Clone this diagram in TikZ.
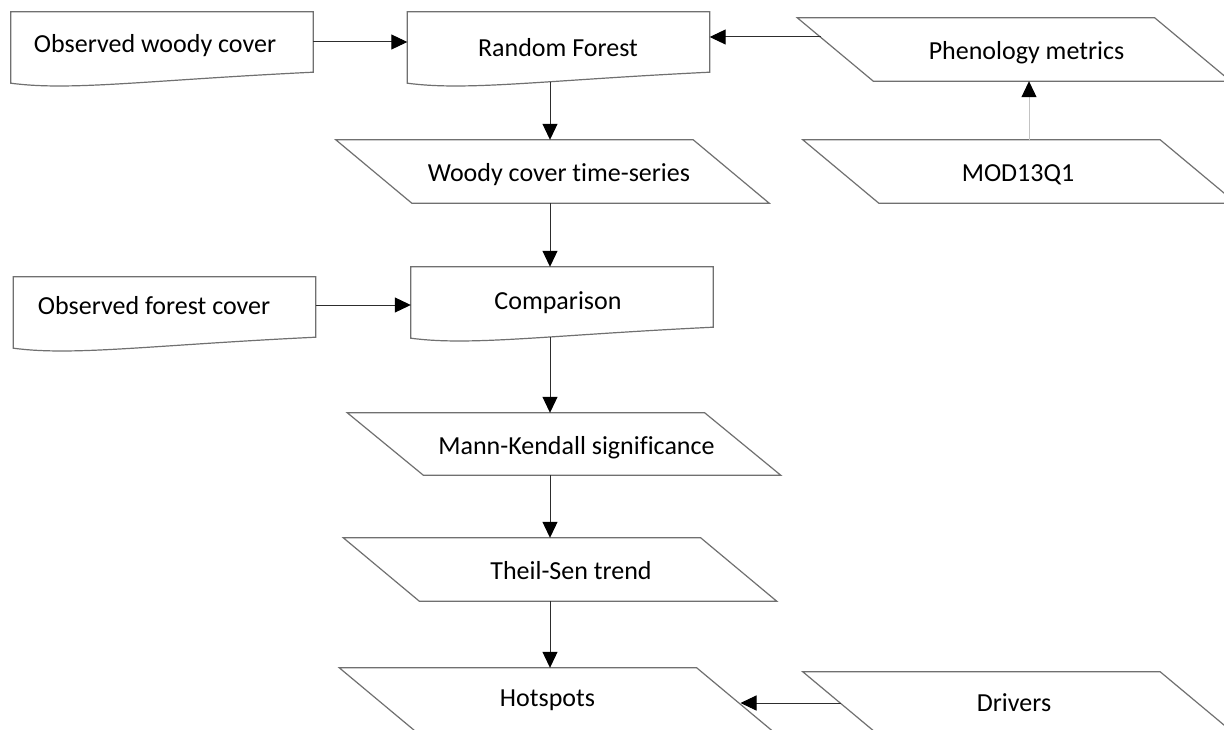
\documentclass[tikz,border=0pt]{standalone}
\usepackage{fontspec}
\setmainfont{Carlito}[Ligatures=NoCommon]
\usetikzlibrary{arrows.meta,calc}
\definecolor{boxgray}{RGB}{112,112,112}
\definecolor{linegray}{RGB}{45,45,45}
\definecolor{lightline}{RGB}{195,195,195}
\tikzset{
  docnode/.style={inner sep=0pt, minimum width=302pt, minimum height=60pt},
  paranode/.style={inner sep=0pt, minimum width=357pt, minimum height=63pt},
  outline/.style={draw=boxgray, line width=1.2pt, line join=miter},
  conn/.style={draw=linegray, line width=1pt, -{Triangle[length=16pt,width=15pt,color=black]}},
  lightconn/.style={draw=lightline, line width=1pt, -{Triangle[length=16pt,width=15pt,color=black]}},
  lbl/.style={font=\fontsize{26}{31}\selectfont, text=black, inner sep=0pt, anchor=base}
}
\newcommand\mydocshape[1]{%
  \draw[outline] (#1.south west) -- (#1.north west) -- (#1.north east) -- (#1.south east)
    .. controls ($(#1.south west)!0.45!(#1.south east)+(0,8)$) and ($(#1.south west)!0.2!(#1.south east)+(0,19)$)
    .. ($(#1.south west)+(0,11)$) -- cycle;}
\newcommand\myparashape[1]{%
  \draw[outline] ($(#1.north west)+(-38,0)$) -- ($(#1.north east)+(-38,0)$)
    -- ($(#1.south east)+(38,0)$) -- ($(#1.south west)+(38,0)$) -- cycle;}
\begin{document}
\begin{tikzpicture}[x=1pt,y=-1pt]
  \useasboundingbox (0,0) rectangle (1224,730);
  \fill[white] (0,0) rectangle (1224,730);
  \clip (0,0) rectangle (1224,730);

  % shape frames (invisible nodes)
  \node[docnode] (owc) at (162,42) {};
  \node[docnode] (rf) at (558.5,42) {};
  \node[docnode] (ofc) at (164.5,307) {};
  \node[docnode] (cmp) at (562,297) {};
  \node[paranode] (wts) at (552.5,171.5) {};
  \node[paranode] (pm) at (1014,49.5) {};
  \node[paranode] (mod) at (1019.5,171.5) {};
  \node[paranode, minimum height=62pt] (mk) at (564,444) {};
  \node[paranode] (ts) at (560,569.5) {};
  \node[paranode] (hs) at (556,699.5) {};
  \node[paranode] (dr) at (1019.5,703.5) {};

  % outlines
  \mydocshape{owc}
  \mydocshape{rf}
  \mydocshape{ofc}
  \mydocshape{cmp}
  \myparashape{wts}
  \myparashape{pm}
  \myparashape{mod}
  \myparashape{mk}
  \myparashape{ts}
  \myparashape{hs}
  \myparashape{dr}

  % labels
  \node[lbl] (owc-t) at (155,52.3) {Observed woody cover};
  \node[lbl] (rf-t) at (558,56.5) {Random Forest};
  \node[lbl] (ofc-t) at (154,314) {Observed forest cover};
  \node[lbl] (cmp-t) at (558,309.3) {Comparison};
  \node[lbl] (wts-t) at (559,181.7) {Woody cover time-series};
  \node[lbl] (pm-t) at (1026.5,59.3) {Phenology metrics};
  \node[lbl] (mod-t) at (1018,181.7) {MOD13Q1};
  \node[lbl] (mk-t) at (576.5,454.5) {Mann-Kendall significance};
  \node[lbl] (ts-t) at (571,579.3) {Theil-Sen trend};
  \node[lbl] (hs-t) at (547.5,706.7) {Hotspots};
  \node[lbl] (dr-t) at (1014,711.7) {Drivers};

  % helper coordinates
  \coordinate (axis) at (550,0);
  \coordinate (modx) at (1029,0);
  \coordinate (yfc) at (0,305);
  \coordinate (pmin) at (821,37);
  \coordinate (drout) at (840.5,703);
  \coordinate (hsin) at (740.5,703);

  % connectors
  \draw[conn] (owc.east) -- (rf.west);
  \draw[conn] (pmin) -- (rf.east |- pmin);
  \draw[conn] ($(rf.south -| axis)+(0,9.6)$) -- (wts.north -| axis);
  \draw[lightconn] (mod.north -| modx) -- (pm.south -| modx);
  \draw[conn] (wts.south -| axis) -- (cmp.north -| axis);
  \draw[conn] (ofc.east |- yfc) -- (cmp.west |- yfc);
  \draw[conn] ($(cmp.south -| axis)+(0,9.7)$) -- (mk.north -| axis);
  \draw[conn] (mk.south -| axis) -- (ts.north -| axis);
  \draw[conn] (ts.south -| axis) -- (hs.north -| axis);
  \draw[conn] (drout) -- (hsin);
\end{tikzpicture}
\end{document}
